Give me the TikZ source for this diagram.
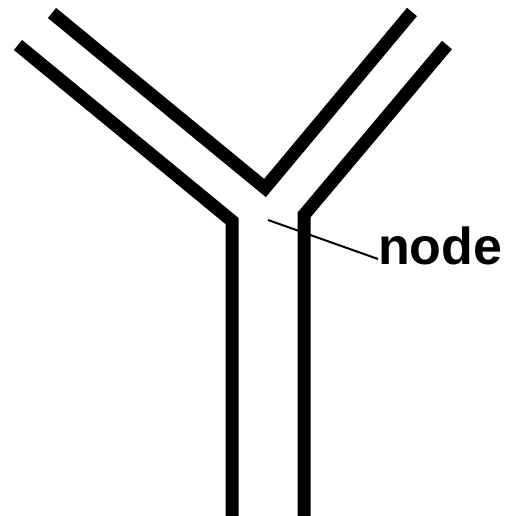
\documentclass[tikz,border=0pt]{standalone}
\usepackage{fontspec}
\setsansfont{Liberation Sans}
\usetikzlibrary{positioning}

\begin{document}
\begin{tikzpicture}[
    x=1pt, y=-1pt,
    wall/.style={line width=13pt, line join=miter},
    leader/.style={line width=2pt},
    tag/.style={font=\sffamily\bfseries\fontsize{52}{62}\selectfont, inner sep=0pt, anchor=base west}
]
    \useasboundingbox (0,0) rectangle (517,516);

    % pipe walls
    \draw[wall] (18,45) -- (232,221) -- (232,516);
    \draw[wall] (52,13) -- (265,188) -- (412,12);
    \draw[wall] (447,45) -- (304,215) -- (304,516);

    % junction label
    \coordinate (junction) at (268,220);
    \node[tag] (label) at (378,264) {node};
    \draw[leader] (junction) -- ([yshift=5pt]label.base west);
\end{tikzpicture}
\end{document}
